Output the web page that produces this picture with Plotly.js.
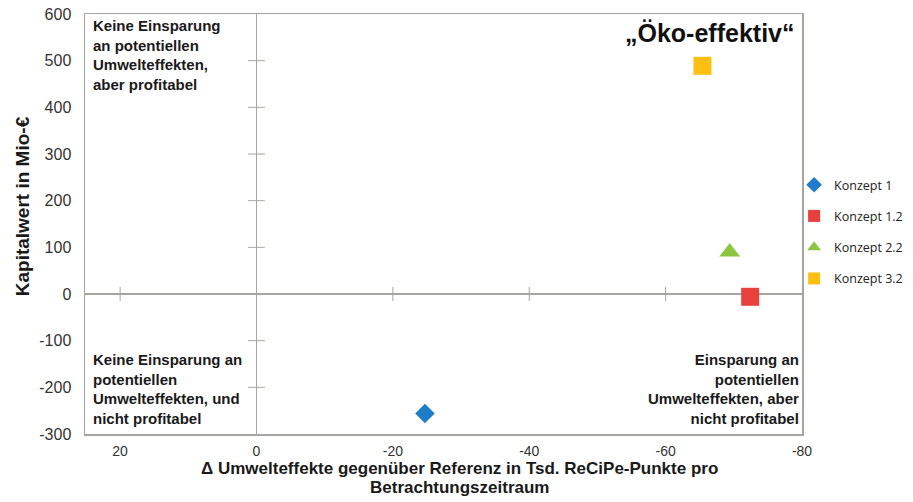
<!DOCTYPE html>
<html>
<head>
<meta charset="utf-8">
<script src="https://cdn.plot.ly/plotly-3.0.1.min.js"></script>
<style>html,body{margin:0;padding:0;background:#fff;}#chart{width:913px;height:502px;}</style>
</head>
<body>
<div id="chart"></div>
<script>
// Data
const seriesNames = ["Konzept 1", "Konzept 1.2", "Konzept 2.2", "Konzept 3.2"];
const umweltX = [-24.7, -72.4, -69.4, -65.4];
const kapitalY = [-256, -6, 90, 489];
const seriesColors = ["#1f7cc8", "#e8403b", "#8cc640", "#fcbf12"];
const seriesSymbols = ["diamond", "square", "triangle-up", "square"];
const seriesSizes = [15, 18, 18, 18];

const xTickVals = [20, 0, -20, -40, -60, -80];
const yTickVals = [600, 500, 400, 300, 200, 100, 0, -100, -200, -300];
const xCrossTicks = [20, -20, -40, -60];
const yCrossTicks = [500, 400, 300, 200, 100, -100, -200];

const axisGray = "#a8a4a2";
const traces = [];
traces.push({
  x: xCrossTicks, y: xCrossTicks.map(() => 0), mode: "markers", type: "scatter",
  showlegend: false, hoverinfo: "skip",
  marker: {symbol: "line-ns-open", size: 10, color: axisGray, line: {color: axisGray, width: 1}}
});
traces.push({
  x: yCrossTicks.map(() => 0), y: yCrossTicks, mode: "markers", type: "scatter",
  showlegend: false, hoverinfo: "skip",
  marker: {symbol: "line-ew-open", size: 12, color: axisGray, line: {color: axisGray, width: 1}}
});
for (let i = 0; i < seriesNames.length; i++) {
  traces.push({
    x: [umweltX[i]], y: [kapitalY[i]], name: seriesNames[i], legendgroup: "g" + i,
    mode: "markers", type: "scatter",
    marker: {symbol: seriesSymbols[i], size: seriesSizes[i], color: seriesColors[i]}
  });
}

const FAM = "Liberation Sans, Arial, sans-serif";
const bold = {family: FAM, size: 15, color: "#1a1a1a", weight: "bold"};
const boldTitle = {family: FAM, size: 17, color: "#1a1a1a", weight: "bold"};
const layout = {
  width: 913, height: 502,
  margin: {l: 85, r: 111, t: 14, b: 68, autoexpand: false},
  paper_bgcolor: "#ffffff", plot_bgcolor: "#ffffff",
  showlegend: true,
  font: {family: FAM, color: "#333"},
  xaxis: {
    range: [25.15, -80], tickvals: xTickVals, ticktext: xTickVals.map(String),
    showgrid: false, ticks: "", showline: true, mirror: true, linecolor: axisGray, linewidth: 1.5,
    zeroline: true, zerolinecolor: axisGray, zerolinewidth: 1.5,
    tickfont: {size: 14, color: "#333"}, ticklabelstandoff: 4, fixedrange: true
  },
  yaxis: {
    range: [-300, 600], tickvals: yTickVals, ticktext: yTickVals.map(String),
    showgrid: false, ticks: "", showline: true, mirror: true, linecolor: axisGray, linewidth: 1.5,
    zeroline: true, zerolinecolor: axisGray, zerolinewidth: 1.5,
    tickfont: {size: 16, color: "#333"}, ticklabelstandoff: 9, fixedrange: true
  },
  legend: {
    x: 0.989, xanchor: "left", y: 0.482, yanchor: "middle",
    traceorder: "grouped", tracegroupgap: 12, itemsizing: "constant",
    font: {family: "Open Sans, sans-serif", size: 12.5, color: "#222"},
    bgcolor: "rgba(0,0,0,0)"
  },
  annotations: [
    {xref: "paper", yref: "paper", x: 0.008, y: 0.997, xanchor: "left", yanchor: "top", align: "left", showarrow: false,
     text: "Keine Einsparung<br>an potentiellen<br>Umwelteffekten,<br>aber profitabel", font: bold},
    {xref: "paper", yref: "paper", x: 0.008, y: 0.012, xanchor: "left", yanchor: "bottom", align: "left", showarrow: false,
     text: "Keine Einsparung an<br>potentiellen<br>Umwelteffekten, und<br>nicht profitabel", font: bold},
    {xref: "paper", yref: "paper", x: 0.999, y: 0.012, xanchor: "right", yanchor: "bottom", align: "right", showarrow: false,
     text: "Einsparung an<br>potentiellen<br>Umwelteffekten, aber<br>nicht profitabel", font: bold},
    {xref: "paper", yref: "paper", x: 0.992, y: 0.955, xanchor: "right", yanchor: "middle", showarrow: false,
     text: "„Öko-effektiv“", font: {family: FAM, size: 25, color: "#111", weight: "bold"}},
    {xref: "paper", yref: "paper", x: 0.523, y: -0.082, xanchor: "center", yanchor: "middle", showarrow: false,
     text: "Δ Umwelteffekte gegenüber Referenz in Tsd. ReCiPe-Punkte pro", font: boldTitle},
    {xref: "paper", yref: "paper", x: 0.523, y: -0.127, xanchor: "center", yanchor: "middle", showarrow: false,
     text: "Betrachtungszeitraum", font: boldTitle},
    {xref: "paper", yref: "paper", x: -0.088, y: 0.542, xanchor: "center", yanchor: "middle", textangle: -90, showarrow: false,
     text: "Kapitalwert in Mio-€", font: {family: FAM, size: 19, color: "#1a1a1a", weight: "bold"}}
  ]
};
Plotly.newPlot("chart", traces, layout, {displayModeBar: false, staticPlot: true});
</script>
</body>
</html>
